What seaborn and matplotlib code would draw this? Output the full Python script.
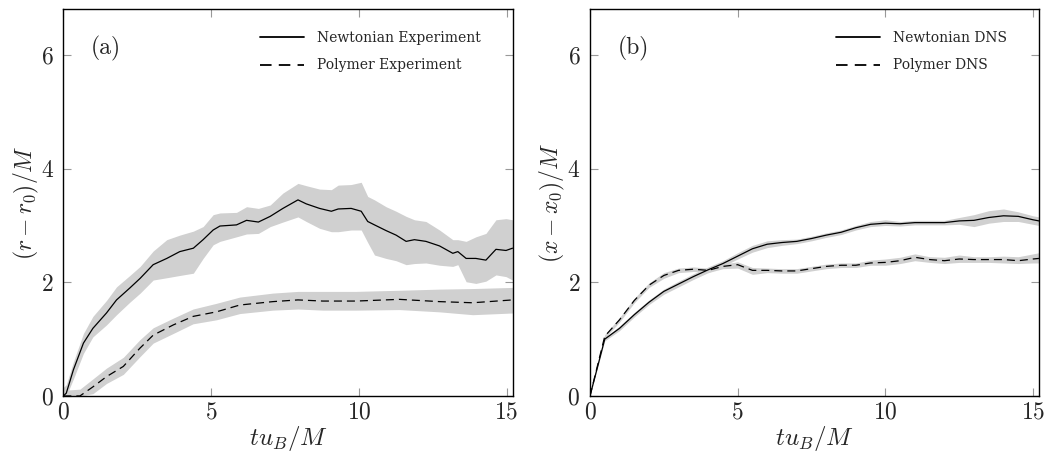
import numpy as np
import seaborn as sns
import matplotlib
matplotlib.use("Agg")
import matplotlib.pyplot as plt

# --- panel (a): experiments ---
exp_newt_t = [0, 0.1, 0.34, 0.68, 1.0, 1.46, 1.8, 2.25, 2.6, 3.04, 3.5, 3.94, 4.4, 4.73, 5.07,
              5.3, 5.86, 6.2, 6.6, 7.0, 7.43, 7.94, 8.22, 8.67, 9.07, 9.3, 9.74, 10.08, 10.3,
              10.53, 10.92, 11.26, 11.6, 11.88, 12.27, 12.73, 13.18, 13.35, 13.63, 13.96, 14.3,
              14.64, 14.98, 15.2]
exp_newt_mean = [0, 0.05, 0.46, 0.93, 1.19, 1.46, 1.69, 1.90, 2.07, 2.31, 2.42, 2.54, 2.60, 2.75,
                 2.92, 2.99, 3.01, 3.09, 3.06, 3.16, 3.30, 3.45, 3.38, 3.30, 3.25, 3.29, 3.30,
                 3.25, 3.07, 3.01, 2.91, 2.83, 2.72, 2.75, 2.72, 2.64, 2.51, 2.54, 2.42, 2.42,
                 2.39, 2.58, 2.56, 2.60]
exp_newt_hi = [0.15, 0.2, 0.6, 1.1, 1.40, 1.68, 1.92, 2.12, 2.28, 2.55, 2.75, 2.83, 2.90, 2.98,
               3.19, 3.22, 3.23, 3.33, 3.30, 3.36, 3.57, 3.74, 3.70, 3.64, 3.63, 3.71, 3.72,
               3.76, 3.51, 3.45, 3.33, 3.25, 3.16, 3.10, 3.07, 2.92, 2.75, 2.75, 2.72, 2.80,
               2.86, 3.10, 3.12, 3.10]
exp_newt_lo = [0, 0, 0.3, 0.75, 1.04, 1.25, 1.43, 1.65, 1.81, 2.04, 2.08, 2.12, 2.16, 2.42,
               2.66, 2.72, 2.80, 2.85, 2.86, 2.98, 3.06, 3.15, 3.07, 2.95, 2.89, 2.89, 2.92,
               2.92, 2.70, 2.48, 2.42, 2.38, 2.31, 2.33, 2.34, 2.30, 2.28, 2.31, 2.01, 1.98,
               2.02, 2.13, 2.10, 2.04]

exp_poly_t = [0, 0.56, 1.0, 1.46, 2.03, 2.59, 3.04, 3.72, 4.39, 5.18, 5.97, 7.09, 7.94, 8.78,
              9.91, 11.37, 12.73, 13.85, 15.2]
exp_poly_mean = [0, 0, 0.16, 0.34, 0.52, 0.84, 1.07, 1.25, 1.40, 1.48, 1.60, 1.66, 1.69, 1.67,
                 1.67, 1.70, 1.66, 1.64, 1.69]
exp_poly_hi = [0.1, 0.12, 0.3, 0.49, 0.68, 0.99, 1.20, 1.37, 1.53, 1.63, 1.74, 1.81, 1.84, 1.84,
               1.84, 1.86, 1.88, 1.89, 1.91]
exp_poly_lo = [0, 0, 0.04, 0.22, 0.38, 0.69, 0.93, 1.10, 1.27, 1.34, 1.45, 1.51, 1.53, 1.51,
               1.51, 1.52, 1.48, 1.43, 1.46]

# --- panel (b): DNS ---
dns_t = [0, 0.5, 1.0, 1.5, 2.0, 2.5, 3.0, 3.5, 4.0, 4.5, 5.0, 5.5, 6.0, 6.5, 7.0, 7.5, 8.0,
         8.5, 9.0, 9.5, 10.0, 10.5, 11.0, 11.5, 12.0, 12.5, 13.0, 13.5, 14.0, 14.5, 15.0, 15.2]
dns_newt_mean = [0, 1.0, 1.19, 1.43, 1.65, 1.84, 1.97, 2.10, 2.22, 2.33, 2.46, 2.59, 2.67, 2.70,
                 2.72, 2.77, 2.83, 2.88, 2.96, 3.02, 3.04, 3.03, 3.05, 3.05, 3.05, 3.08, 3.09,
                 3.14, 3.17, 3.16, 3.10, 3.08]
dns_newt_hi = [0, 1.03, 1.23, 1.47, 1.69, 1.88, 2.02, 2.15, 2.27, 2.38, 2.52, 2.65, 2.73, 2.75,
               2.76, 2.81, 2.87, 2.92, 3.00, 3.07, 3.10, 3.07, 3.09, 3.09, 3.09, 3.14, 3.19,
               3.26, 3.29, 3.24, 3.17, 3.15]
dns_newt_lo = [0, 0.97, 1.15, 1.39, 1.61, 1.79, 1.92, 2.05, 2.17, 2.28, 2.41, 2.53, 2.61, 2.65,
               2.68, 2.73, 2.79, 2.84, 2.92, 2.98, 3.00, 2.99, 3.01, 3.01, 3.01, 3.02, 2.98,
               3.04, 3.07, 3.07, 3.02, 3.00]
dns_poly_mean = [0, 1.05, 1.34, 1.68, 1.95, 2.12, 2.21, 2.23, 2.21, 2.28, 2.31, 2.21, 2.21, 2.20,
                 2.20, 2.24, 2.28, 2.30, 2.30, 2.34, 2.35, 2.38, 2.44, 2.40, 2.38, 2.41, 2.40,
                 2.40, 2.40, 2.38, 2.41, 2.42]
dns_poly_hi = [0, 1.08, 1.38, 1.72, 1.99, 2.17, 2.25, 2.27, 2.25, 2.32, 2.36, 2.26, 2.25, 2.24,
               2.24, 2.28, 2.32, 2.34, 2.34, 2.39, 2.41, 2.44, 2.50, 2.45, 2.44, 2.48, 2.45,
               2.45, 2.46, 2.45, 2.50, 2.52]
dns_poly_lo = [0, 1.02, 1.30, 1.64, 1.91, 2.07, 2.17, 2.19, 2.17, 2.24, 2.25, 2.14, 2.17, 2.16,
               2.16, 2.20, 2.24, 2.26, 2.26, 2.30, 2.30, 2.33, 2.38, 2.35, 2.33, 2.35, 2.35,
               2.35, 2.34, 2.33, 2.34, 2.34]

sns.set_style("ticks")
plt.rcParams["font.family"] = ["cmr10", "DejaVu Serif"]
plt.rcParams["mathtext.fontset"] = "cm"
plt.rcParams["axes.formatter.use_mathtext"] = True
plt.rcParams["axes.unicode_minus"] = False

BAND = "#d0d0d0"
DASH = (0, (6.4, 4))

fig = plt.figure(figsize=(10.47, 4.51), dpi=100)
ax_a = fig.add_axes([0.0605, 0.122, 0.429, 0.857])
ax_b = fig.add_axes([0.5635, 0.122, 0.4288, 0.857])


def draw(ax, t1, m1, lo1, hi1, lab1, t2, m2, lo2, hi2, lab2):
    ax.fill_between(t1, lo1, hi1, color=BAND, lw=0)
    ax.fill_between(t2, lo2, hi2, color=BAND, lw=0)
    sns.lineplot(x=t1, y=m1, ax=ax, color="k", lw=0.9, label=lab1,
                 estimator=None, sort=False)
    sns.lineplot(x=t2, y=m2, ax=ax, color="k", lw=0.9, ls=DASH, label=lab2,
                 estimator=None, sort=False)


draw(ax_a, exp_newt_t, exp_newt_mean, exp_newt_lo, exp_newt_hi, "Newtonian Experiment",
     exp_poly_t, exp_poly_mean, exp_poly_lo, exp_poly_hi, "Polymer Experiment")
draw(ax_b, dns_t, dns_newt_mean, dns_newt_lo, dns_newt_hi, "Newtonian DNS",
     dns_t, dns_poly_mean, dns_poly_lo, dns_poly_hi, "Polymer DNS")

for ax, panel, ylab in [(ax_a, "(a)", r"$(r-r_0)/M$"), (ax_b, "(b)", r"$(x-x_0)/M$")]:
    ax.set_xlim(0, 15.2)
    ax.set_ylim(0, 6.8)
    ax.set_xticks([0, 5, 10, 15])
    ax.set_yticks([0, 2, 4, 6])
    ax.tick_params(direction="in", length=6, width=0.8, color="#999999",
                   top=True, right=True, labelsize=17, pad=4)
    ax.tick_params(axis="y", pad=7)
    for s in ax.spines.values():
        s.set_color("black")
        s.set_linewidth(1.0)
    ax.set_xlabel(r"$tu_B/M$", fontsize=18, labelpad=0)
    ax.set_ylabel(ylab, fontsize=17, labelpad=0)
    ax.text(0.062, 0.90, panel, transform=ax.transAxes, fontsize=17, va="center")
    leg = ax.legend(loc="upper right", bbox_to_anchor=(0.972, 0.994), frameon=False,
                    handlelength=3.2, prop={"family": "DejaVu Serif", "size": 10},
                    handletextpad=0.9, labelspacing=0.95, borderaxespad=1.1,
                    borderpad=0.3)
    for h in leg.legend_handles:
        h.set_linewidth(1.3)

fig.savefig("out.png", dpi=100)
